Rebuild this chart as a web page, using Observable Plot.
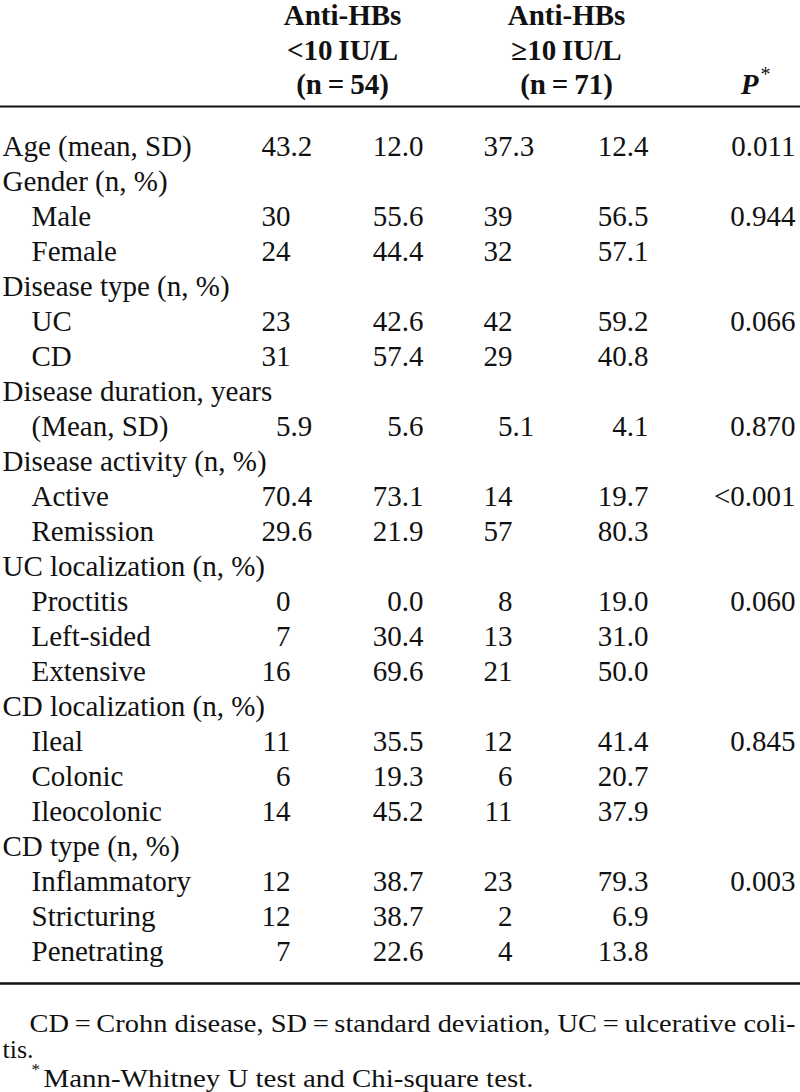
<!DOCTYPE html>
<html>
<head>
<meta charset="utf-8">
<script src="https://cdn.jsdelivr.net/npm/d3@7"></script>
<script src="https://cdn.jsdelivr.net/npm/@observablehq/plot@0.6"></script>
<style>
  html, body { margin: 0; padding: 0; background: #fff; }
</style>
</head>
<body>
<div id="chart"></div>
<script>
// ---------- data ----------
const labels = [
  "Age (mean, SD)", "Gender (n, %)", "Male", "Female",
  "Disease type (n, %)", "UC", "CD",
  "Disease duration, years", "(Mean, SD)",
  "Disease activity (n, %)", "Active", "Remission",
  "UC localization (n, %)", "Proctitis", "Left-sided", "Extensive",
  "CD localization (n, %)", "Ileal", "Colonic", "Ileocolonic",
  "CD type (n, %)", "Inflammatory", "Stricturing", "Penetrating"
];
const indented = [0,0,1,1, 0,1,1, 0,1, 0,1,1, 0,1,1,1, 0,1,1,1, 0,1,1,1];
const lowN    = ["43.2",null,"30","24", null,"23","31", null,"5.9", null,"70.4","29.6", null,"0","7","16", null,"11","6","14", null,"12","12","7"];
const lowPct  = ["12.0",null,"55.6","44.4", null,"42.6","57.4", null,"5.6", null,"73.1","21.9", null,"0.0","30.4","69.6", null,"35.5","19.3","45.2", null,"38.7","38.7","22.6"];
const highN   = ["37.3",null,"39","32", null,"42","29", null,"5.1", null,"14","57", null,"8","13","21", null,"12","6","11", null,"23","2","4"];
const highPct = ["12.4",null,"56.5","57.1", null,"59.2","40.8", null,"4.1", null,"19.7","80.3", null,"19.0","31.0","50.0", null,"41.4","20.7","37.9", null,"79.3","6.9","13.8"];
const pValues = ["0.011",null,"0.944",null, null,"0.066",null, null,"0.870", null,"<0.001",null, null,"0.060",null,null, null,"0.845",null,null, null,"0.003",null,null];
const headerA = ["Anti-HBs", "<10\u2009IU/L", "(n\u2009=\u200954)"];
const headerB = ["Anti-HBs", "\u226510\u2009IU/L", "(n\u2009=\u200971)"];
const footnotes = [
  "CD\u2009=\u2009Crohn disease, SD\u2009=\u2009standard deviation, UC\u2009=\u2009ulcerative coli-",
  "tis.",
  "Mann-Whitney U test and Chi-square test."
];

// ---------- layout ----------
const FS = 29;
const FN = 26;
const INK = "#111";
const colAnchor = {lowN: 290, lowPct: 423, highN: 512, highPct: 648, p: 795};
const decimalCols = new Set(["lowN", "highN"]);
const cols = {lowN, lowPct, highN, highPct, p: pValues};

const rows = labels.map((label, i) => ({i, label, indent: indented[i]}));
const cells = [];
for (const [key, arr] of Object.entries(cols)) {
  arr.forEach((v, i) => { if (v != null) cells.push({i, v, col: key}); });
}
const cellX = d => {
  const a = colAnchor[d.col];
  if (decimalCols.has(d.col) && d.v.includes(".")) return a + 0.75 * FS;
  return a;
};

const headerRows = [-3.73, -2.74, -1.77];
const headers = [
  ...headerA.map((t, k) => ({t, y: headerRows[k], x: 342})),
  ...headerB.map((t, k) => ({t, y: headerRows[k], x: 566}))
];

const chart = Plot.plot({
  width: 800,
  height: 1092,
  margin: 0,
  x: {domain: [0, 800], range: [0, 800], axis: null},
  y: {domain: [0, 23], range: [146, 951], axis: null},
  style: {fontFamily: "'Liberation Serif', 'Times New Roman', serif", background: "#fff", color: INK},
  marks: [
    // header
    Plot.text(headers, {x: "x", y: "y", text: "t", fontSize: FS, fontWeight: "bold", fill: INK, textAnchor: "middle"}),
    Plot.text(["P"], {x: [758], y: [-1.77], text: d => d, fontSize: FS, fontWeight: "bold", fontStyle: "italic", fill: INK, textAnchor: "end"}),
    Plot.text(["*"], {x: [760], y: [-2.05], text: d => d, fontSize: 20, fill: INK, textAnchor: "start"}),
    Plot.ruleY([-1.143], {x1: 0, x2: 800, stroke: INK, strokeWidth: 2}),
    // body
    Plot.text(rows, {x: d => d.indent ? 31 : 2, y: "i", text: "label", fontSize: FS, fill: INK, textAnchor: "start"}),
    Plot.text(cells, {x: cellX, y: "i", text: "v", fontSize: FS, fill: INK, textAnchor: "end"}),
    Plot.ruleY([23.914], {x1: 0, x2: 800, stroke: INK, strokeWidth: 2.5}),
    // footnotes
    Plot.text([footnotes[0]], {x: [29], y: [25.06], text: d => d, fontSize: FN, fill: INK, textAnchor: "start"}),
    Plot.text([footnotes[1]], {x: [2], y: [25.8], text: d => d, fontSize: FN, fill: INK, textAnchor: "start"}),
    Plot.text(["*"], {x: [31], y: [26.38], text: d => d, fontSize: 17, fill: INK, textAnchor: "start"}),
    Plot.text([footnotes[2]], {x: [43], y: [26.62], text: d => d, fontSize: FN, fill: INK, textAnchor: "start"})
  ]
});

// fit the long footnote line to the table width, like the justified original
chart.querySelectorAll("text").forEach(t => {
  if (t.textContent === footnotes[0]) {
    t.setAttribute("textLength", 766);
    t.setAttribute("lengthAdjust", "spacingAndGlyphs");
  }
  if (t.textContent === footnotes[2]) {
    t.setAttribute("textLength", 490);
    t.setAttribute("lengthAdjust", "spacingAndGlyphs");
  }
});

document.getElementById("chart").appendChild(chart);
</script>
</body>
</html>
